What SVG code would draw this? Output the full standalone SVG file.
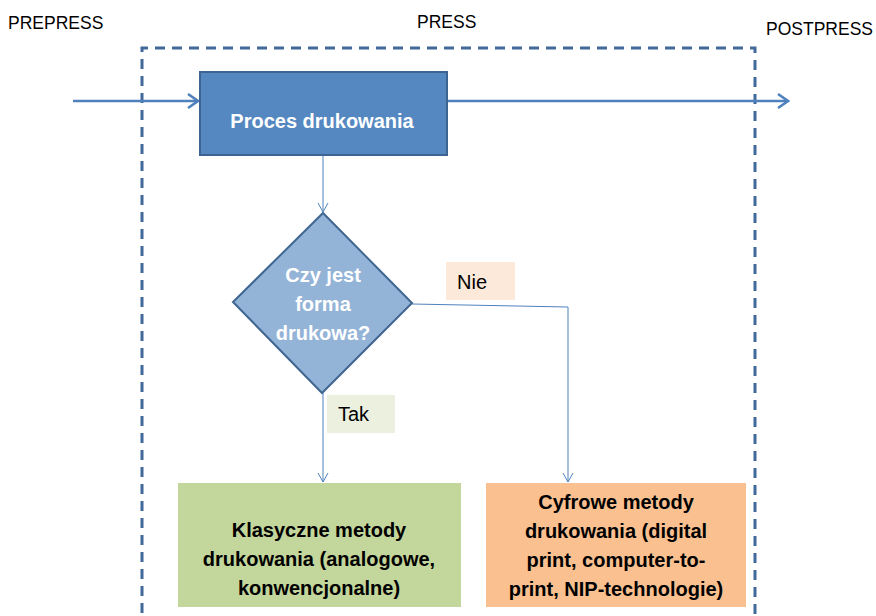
<svg xmlns="http://www.w3.org/2000/svg" width="876" height="616" viewBox="0 0 876 616">
<defs>
<style>
.lbl{font-family:"Liberation Sans",Arial,sans-serif;font-size:17.5px;fill:#000}
.tag{font-family:"Liberation Sans",Arial,sans-serif;font-size:20px;fill:#000}
.wt{font-family:"Liberation Sans",Arial,sans-serif;font-size:20px;font-weight:bold;fill:#fff;text-anchor:middle}
.bt{font-family:"Liberation Sans",Arial,sans-serif;font-size:20px;font-weight:bold;fill:#000;text-anchor:middle}
.thick{stroke:#4f81bd;stroke-width:2.5;fill:none}
.thin{stroke:#4f81bd;stroke-width:1;fill:none}
</style>
<marker id="ah" markerUnits="userSpaceOnUse" markerWidth="14" markerHeight="16" refX="12" refY="8" orient="auto">
<path d="M2,1 L12,8 L2,15" fill="none" stroke="#4f81bd" stroke-width="2.5"/>
</marker>
<marker id="ahs" markerUnits="userSpaceOnUse" markerWidth="12" markerHeight="12" refX="10" refY="6" orient="auto">
<path d="M1,1 L10,6 L1,11" fill="none" stroke="#4f81bd" stroke-width="1"/>
</marker>
</defs>
<rect width="876" height="616" fill="#fff"/>
<g id="stages">
<text class="lbl" x="8" y="29">PREPRESS</text>
<text class="lbl" x="417" y="28">PRESS</text>
<text class="lbl" x="766" y="35">POSTPRESS</text>
</g>
<g id="press-frame">
<path d="M142,630 L142,48 L755,48 L755,630" fill="none" stroke="#41699a" stroke-width="3" stroke-dasharray="10,7"/>
</g>
<g id="connectors">
<line class="thick" x1="73" y1="101" x2="198" y2="101" marker-end="url(#ah)"/>
<line class="thick" x1="447" y1="101" x2="788" y2="101" marker-end="url(#ah)"/>
<line class="thin" x1="323" y1="155" x2="323" y2="212" marker-end="url(#ahs)"/>
<line class="thin" x1="323" y1="393" x2="323" y2="482" marker-end="url(#ahs)"/>
<polyline class="thin" points="412,304 568,307 568,482" marker-end="url(#ahs)"/>
</g>
<g id="proces">
<rect x="200" y="72" width="247" height="83" fill="#5588c0" stroke="#3d6491" stroke-width="2"/>
<text class="wt" x="322" y="128" font-size="21">Proces drukowania</text>
</g>
<g id="decision">
<polygon points="323,213 412,303 322,393 233,302" fill="#93b3d7" stroke="#3f6690" stroke-width="2"/>
<text class="wt" x="323" y="282">Czy jest</text>
<text class="wt" x="323" y="311">forma</text>
<text class="wt" x="323" y="340">drukowa?</text>
</g>
<g id="label-nie">
<rect x="446" y="262" width="69" height="38" fill="#fde9d9"/>
<text class="tag" x="457" y="289">Nie</text>
</g>
<g id="label-tak">
<rect x="327" y="395" width="68" height="38" fill="#ebf1de"/>
<text class="tag" x="338" y="421">Tak</text>
</g>
<g id="klasyczne">
<rect x="178" y="483" width="283" height="124" fill="#c3d69b"/>
<text class="bt" x="319" y="537">Klasyczne metody</text>
<text class="bt" x="319" y="566">drukowania (analogowe,</text>
<text class="bt" x="319" y="595">konwencjonalne)</text>
</g>
<g id="cyfrowe">
<rect x="486" y="483" width="260" height="124" fill="#fac090"/>
<text class="bt" x="616" y="509">Cyfrowe metody</text>
<text class="bt" x="616" y="538">drukowania (digital</text>
<text class="bt" x="616" y="567">print, computer-to-</text>
<text class="bt" x="616" y="596">print, NIP-technologie)</text>
</g>
</svg>
